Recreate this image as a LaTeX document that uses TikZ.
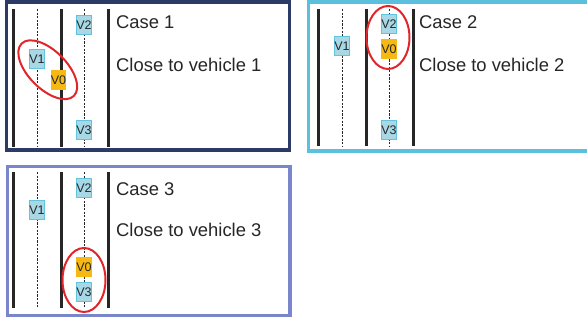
\documentclass[tikz,border=0pt]{standalone}
\usepackage{fontspec}
\setmainfont{Liberation Sans}
\definecolor{CaseNavy}{HTML}{2C3A66}
\definecolor{CaseCyan}{HTML}{5BC0DE}
\definecolor{CasePeri}{HTML}{7986CB}
\definecolor{CarBlue}{HTML}{A8D8E6}
\definecolor{CarEdge}{HTML}{62C3DD}
\definecolor{EgoGold}{HTML}{F6B914}
\definecolor{RingRed}{HTML}{E0262B}
\definecolor{InkGrey}{HTML}{262626}

\begin{document}
\begin{tikzpicture}[x=1pt,y=-1pt, every node/.style={text=InkGrey},
  panel/.style={line width=3.5pt},
  kerb/.style={line width=3pt,draw=InkGrey},
  lanemark/.style={line width=1pt,draw=InkGrey,dash pattern=on 2.2pt off 1.4pt},
  car/.style={draw=CarEdge,fill=CarBlue,line width=1pt,inner sep=0pt,minimum width=15pt,minimum height=19pt,font=\fontsize{12.5}{13}\selectfont},
  ego/.style={car,draw=none,fill=EgoGold,minimum height=20pt},
  caption/.style={anchor=west,inner sep=0pt,font=\fontsize{18.4}{20}\selectfont},
  ring/.style={draw=RingRed,line width=2pt}]
  \useasboundingbox (0,0) rectangle (587,320);
  \clip (0,0) rectangle (587,320);
  \fill[white] (0,0) rectangle (587,320);
  \draw[panel,CaseNavy] (6.5,2) rectangle (289.5,150);
  \draw[panel,CaseCyan] (308.5,2) rectangle (600,151);
  \draw[panel,CasePeri] (7.5,166.5) rectangle (290,315.5);
  \foreach \px/\top/\bot in {0/9/147,305/9/146,0/172/308}{
    \foreach \lx in {13,61,108} \draw[kerb] (\px+\lx,\top) -- (\px+\lx,\bot);
    \foreach \lx in {37,84} \draw[lanemark] (\px+\lx,\top) -- (\px+\lx,\bot);
  }
  \node[car] (p1v2) at (84,25) {V2};
  \node[car] (p1v1) at (37,59.5) {V1};
  \node[ego] (p1v0) at (58.5,80) {V0};
  \node[car] (p1v3) at (84,130) {V3};
  \node[caption] (p1case) at (116,22) {Case 1};
  \node[caption] (p1text) at (116,65) {Close to vehicle 1};
  \draw[ring,rotate around={-45:(47.75,69.75)}] (47.75,69.75) ellipse [x radius=37,y radius=19];

  \node[car] (p2v2) at (389,24.5) {V2};
  \node[car] (p2v1) at (342,46) {V1};
  \node[ego] (p2v0) at (389,49) {V0};
  \node[car] (p2v3) at (389,130) {V3};
  \node[caption] (p2case) at (419,22) {Case 2};
  \node[caption] (p2text) at (419,65) {Close to vehicle 2};
  \draw[ring] (388,37.5) ellipse [x radius=21.5,y radius=31.5];

  \node[car] (p3v2) at (84,188) {V2};
  \node[car] (p3v1) at (37,210) {V1};
  \node[ego] (p3v0) at (84,267) {V0};
  \node[car] (p3v3) at (84,292) {V3};
  \node[caption] (p3case) at (116,189) {Case 3};
  \node[caption] (p3text) at (116,230) {Close to vehicle 3};
  \draw[ring] (84,280) ellipse [x radius=21.5,y radius=32];
\end{tikzpicture}
\end{document}
